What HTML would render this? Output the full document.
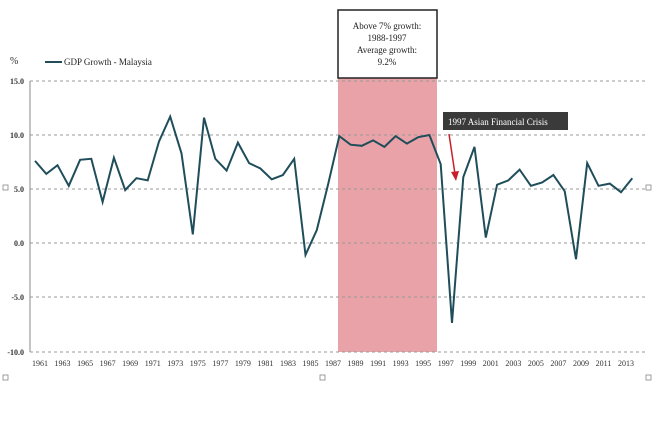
<!DOCTYPE html><html><head><meta charset="utf-8"><style>body{margin:0;background:#fff}svg{display:block;font-family:"Liberation Serif",serif}</style></head><body>
<svg width="660" height="440" xmlns="http://www.w3.org/2000/svg">
<rect x="338" y="78" width="99" height="274" fill="#e8a2a8"/>
<g stroke="#999" stroke-dasharray="3,3" stroke-width="1">
<line x1="30" y1="81" x2="645" y2="81"/><line x1="30" y1="135" x2="645" y2="135"/><line x1="30" y1="189" x2="645" y2="189"/><line x1="30" y1="243" x2="645" y2="243"/><line x1="30" y1="297" x2="645" y2="297"/><line x1="30" y1="352" x2="645" y2="352"/></g>
<line x1="30" y1="81" x2="30" y2="352" stroke="#888"/>
<g font-size="8" font-weight="bold" fill="#333" text-anchor="end"><text x="24" y="84">15.0</text><text x="24" y="138">10.0</text><text x="24" y="192">5.0</text><text x="24" y="246">0.0</text><text x="24" y="300">-5.0</text><text x="24" y="355">-10.0</text></g>
<text x="10" y="64" font-size="10" fill="#333">%</text>
<line x1="45" y1="62" x2="62" y2="62" stroke="#1f4e5a" stroke-width="2"/>
<text x="64" y="65" font-size="9" fill="#222">GDP Growth - Malaysia</text>
<g font-size="8" fill="#333" text-anchor="middle" id="xl"></g>
<polyline id="ln" fill="none" stroke="#1f4e5a" stroke-width="2"/>
<rect x="338" y="10" width="99" height="68" fill="#fff" stroke="#222" stroke-width="1.5"/>
<g font-size="9" fill="#222" text-anchor="middle"><text x="387" y="29">Above 7% growth:</text><text x="387" y="41">1988-1997</text><text x="387" y="53">Average growth:</text><text x="387" y="65">9.2%</text></g>
<rect x="443" y="112" width="125" height="18" fill="#3a3a3a"/>
<text x="448" y="125" font-size="9" fill="#fff">1997 Asian Financial Crisis</text>
<line x1="449" y1="134" x2="455" y2="174" stroke="#c8202a" stroke-width="1.5"/>
<polygon points="451,172 459,171 456,181" fill="#c8202a"/>
<g fill="none" stroke="#888" stroke-width="0.8"><rect x="3" y="185" width="5" height="5"/><rect x="646" y="185" width="5" height="5"/><rect x="3" y="375" width="5" height="5"/><rect x="320" y="375" width="5" height="5"/><rect x="646" y="375" width="5" height="5"/></g>
<script>
var d=[7.6,6.4,7.2,5.3,7.7,7.8,3.8,7.9,4.9,6.0,5.8,9.4,11.7,8.3,0.8,11.6,7.8,6.7,9.3,7.4,6.9,5.9,6.3,7.8,-1.1,1.2,5.4,9.9,9.1,9.0,9.5,8.9,9.9,9.2,9.8,10.0,7.3,-7.4,6.1,8.9,0.5,5.4,5.8,6.8,5.3,5.6,6.3,4.8,-1.5,7.4,5.3,5.5,4.7,6.0];
var p=[],xl=document.getElementById('xl'),ns="http://www.w3.org/2000/svg";
d.forEach(function(v,i){var x=35+i*11.27;p.push(x.toFixed(1)+','+(243-v*10.8).toFixed(1));
if(i%2==0){var t=document.createElementNS(ns,'text');t.setAttribute('x',x+5);t.setAttribute('y',366);t.textContent=1961+i;xl.appendChild(t);}});
document.getElementById('ln').setAttribute('points',p.join(' '));
</script>
</svg></body></html>
